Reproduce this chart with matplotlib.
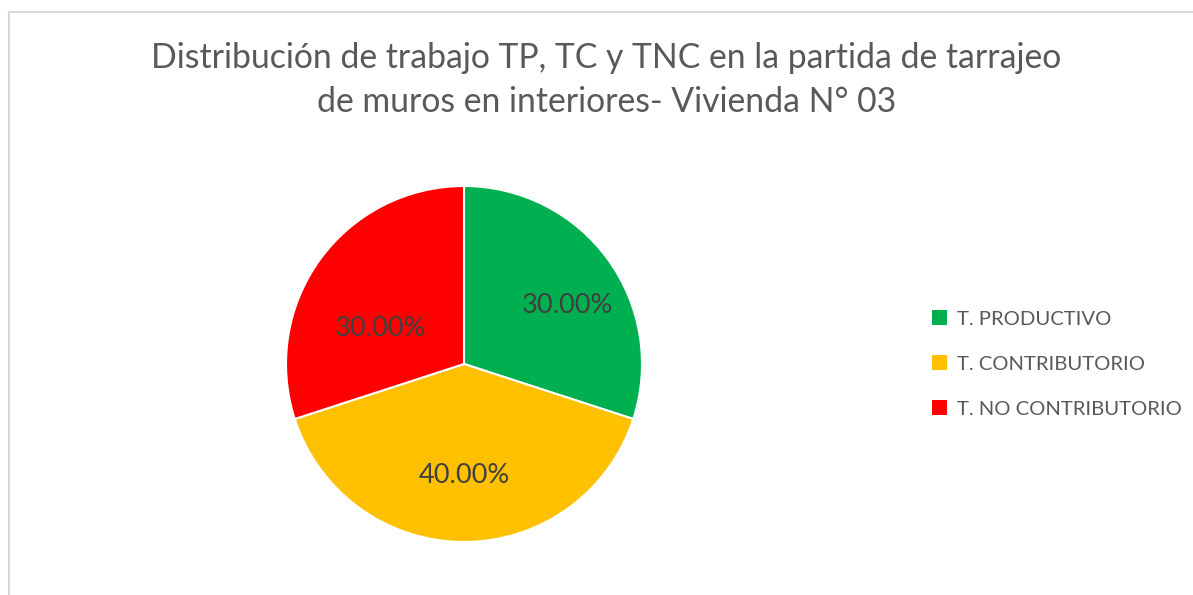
import matplotlib
matplotlib.use("Agg")
import matplotlib.pyplot as plt
from matplotlib.patches import Patch
from matplotlib.lines import Line2D

categories = ["T. PRODUCTIVO", "T. CONTRIBUTORIO", "T. NO CONTRIBUTORIO"]
values = [30.0, 40.0, 30.0]
colors = ["#00B050", "#FFC000", "#FF0000"]
title = "Distribución de trabajo TP, TC y TNC en la partida de tarrajeo\nde muros en interiores- Vivienda N° 03"

plt.rcParams['font.family'] = ['Lato', 'DejaVu Sans']

W, H = 1193, 595
fig = plt.figure(figsize=(W / 100, H / 100), dpi=100)
fig.patch.set_facecolor("white")

# chart border (top and left edges visible)
fig.add_artist(Line2D([9 / W, 9 / W], [0, 1 - 12 / H], color="#d9d9d9", lw=1.5, transform=fig.transFigure))
fig.add_artist(Line2D([9 / W, 1], [1 - 12 / H, 1 - 12 / H], color="#d9d9d9", lw=1.5, transform=fig.transFigure))

cx, cy, r = 464, 364, 178
ax = fig.add_axes([(cx - r) / W, (H - cy - r) / H, 2 * r / W, 2 * r / H])
wedges, texts, autotexts = ax.pie(
    values, colors=colors, startangle=90, counterclock=False,
    autopct=lambda p: f"{p:.2f}%", pctdistance=0.65,
    wedgeprops=dict(edgecolor="white", linewidth=1.5),
    textprops=dict(color="#404040", fontsize=19.5),
)
label_pos = [(0.579, 0.331), (0.0, -0.629), (-0.472, 0.197)]
for t, p in zip(autotexts, label_pos):
    t.set_position(p)
ax.set_xlim(-1, 1)
ax.set_ylim(-1, 1)
ax.set_aspect("equal")
ax.axis("off")

fig.text(0.5 * (150 + 1063) / W, 1 - 80 / H, title, ha="center", va="center",
         fontsize=24.3, color="#595959", linespacing=1.45)

handles = [Patch(facecolor=c, edgecolor="none") for c in colors]
fig.legend(handles, categories, loc="center left", bbox_to_anchor=(914 / W, 1 - 364 / H),
           frameon=False, fontsize=14.6, labelcolor="#595959",
           handlelength=0.75, handleheight=0.75, handletextpad=0.45, labelspacing=1.35)

fig.savefig("out.png", dpi=100, facecolor="white")
